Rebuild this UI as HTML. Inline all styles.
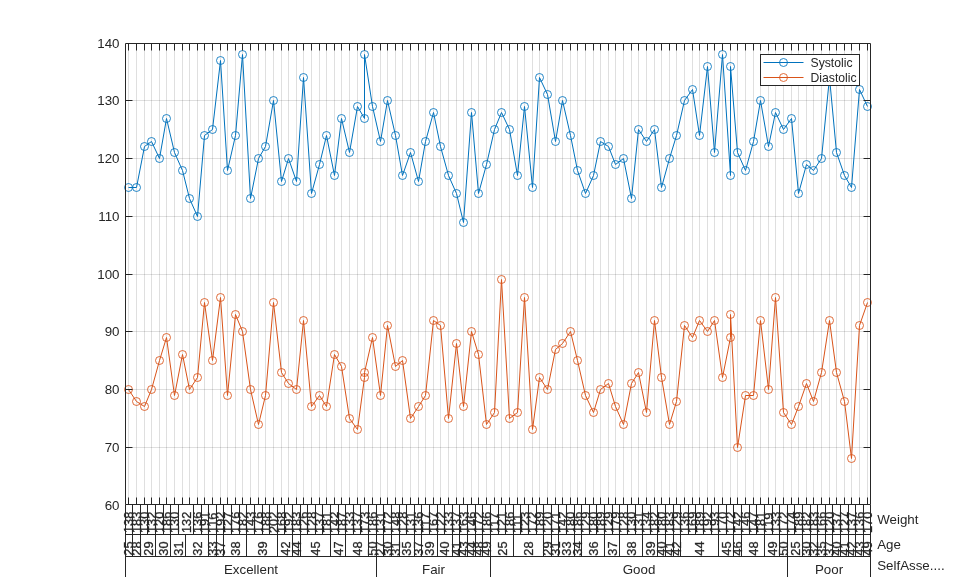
<!DOCTYPE html><html><head><meta charset="utf-8"><title>Blood pressure by patient</title><style>html,body{margin:0;padding:0;background:#fff;}svg{display:block;} text{font-family:"Liberation Sans",Arial,Helvetica,sans-serif;}</style></head><body>
<div style="will-change:transform;width:959px;height:577px;overflow:hidden"><svg width="959" height="577" viewBox="0 0 959 577">
<rect width="959" height="577" fill="#fff"/>
<path d="M128.5 43.5V504.5M136.5 43.5V504.5M144.5 43.5V504.5M151.5 43.5V504.5M159.5 43.5V504.5M166.5 43.5V504.5M174.5 43.5V504.5M182.5 43.5V504.5M189.5 43.5V504.5M197.5 43.5V504.5M204.5 43.5V504.5M212.5 43.5V504.5M220.5 43.5V504.5M227.5 43.5V504.5M235.5 43.5V504.5M242.5 43.5V504.5M250.5 43.5V504.5M258.5 43.5V504.5M265.5 43.5V504.5M273.5 43.5V504.5M281.5 43.5V504.5M288.5 43.5V504.5M296.5 43.5V504.5M303.5 43.5V504.5M311.5 43.5V504.5M319.5 43.5V504.5M326.5 43.5V504.5M334.5 43.5V504.5M341.5 43.5V504.5M349.5 43.5V504.5M357.5 43.5V504.5M364.5 43.5V504.5M372.5 43.5V504.5M380.5 43.5V504.5M387.5 43.5V504.5M395.5 43.5V504.5M402.5 43.5V504.5M410.5 43.5V504.5M418.5 43.5V504.5M425.5 43.5V504.5M433.5 43.5V504.5M440.5 43.5V504.5M448.5 43.5V504.5M456.5 43.5V504.5M463.5 43.5V504.5M471.5 43.5V504.5M478.5 43.5V504.5M486.5 43.5V504.5M494.5 43.5V504.5M501.5 43.5V504.5M509.5 43.5V504.5M517.5 43.5V504.5M524.5 43.5V504.5M532.5 43.5V504.5M539.5 43.5V504.5M547.5 43.5V504.5M555.5 43.5V504.5M562.5 43.5V504.5M570.5 43.5V504.5M577.5 43.5V504.5M585.5 43.5V504.5M593.5 43.5V504.5M600.5 43.5V504.5M608.5 43.5V504.5M615.5 43.5V504.5M623.5 43.5V504.5M631.5 43.5V504.5M638.5 43.5V504.5M646.5 43.5V504.5M654.5 43.5V504.5M661.5 43.5V504.5M669.5 43.5V504.5M676.5 43.5V504.5M684.5 43.5V504.5M692.5 43.5V504.5M699.5 43.5V504.5M707.5 43.5V504.5M714.5 43.5V504.5M722.5 43.5V504.5M730.5 43.5V504.5M737.5 43.5V504.5M745.5 43.5V504.5M753.5 43.5V504.5M760.5 43.5V504.5M768.5 43.5V504.5M775.5 43.5V504.5M783.5 43.5V504.5M791.5 43.5V504.5M798.5 43.5V504.5M806.5 43.5V504.5M813.5 43.5V504.5M821.5 43.5V504.5M829.5 43.5V504.5M836.5 43.5V504.5M844.5 43.5V504.5M851.5 43.5V504.5M859.5 43.5V504.5M867.5 43.5V504.5" stroke="#262626" stroke-opacity="0.15" stroke-width="1" fill="none"/>
<path d="M125.5 447.5H870.5M125.5 389.5H870.5M125.5 331.5H870.5M125.5 274.5H870.5M125.5 216.5H870.5M125.5 158.5H870.5M125.5 100.5H870.5" stroke="#262626" stroke-opacity="0.15" stroke-width="1" fill="none"/>
<polyline points="128.5,187.5 136.5,187.5 144.5,146.5 151.5,141.5 159.5,158.5 166.5,118.5 174.5,152.5 182.5,170.5 189.5,198.5 197.5,216.5 204.5,135.5 212.5,129.5 220.5,60.5 227.5,170.5 235.5,135.5 242.5,54.5 250.5,198.5 258.5,158.5 265.5,146.5 273.5,100.5 281.5,181.5 288.5,158.5 296.5,181.5 303.5,77.5 311.5,193.5 319.5,164.5 326.5,135.5 334.5,175.5 341.5,118.5 349.5,152.5 357.5,106.5 364.5,118.5 364.5,54.5 372.5,106.5 380.5,141.5 387.5,100.5 395.5,135.5 402.5,175.5 410.5,152.5 418.5,181.5 425.5,141.5 433.5,112.5 440.5,146.5 448.5,175.5 456.5,193.5 463.5,222.5 471.5,112.5 478.5,193.5 486.5,164.5 494.5,129.5 501.5,112.5 509.5,129.5 517.5,175.5 524.5,106.5 532.5,187.5 539.5,77.5 547.5,94.5 555.5,141.5 562.5,100.5 570.5,135.5 577.5,170.5 585.5,193.5 593.5,175.5 600.5,141.5 608.5,146.5 615.5,164.5 623.5,158.5 631.5,198.5 638.5,129.5 646.5,141.5 654.5,129.5 661.5,187.5 669.5,158.5 676.5,135.5 684.5,100.5 692.5,89.5 699.5,135.5 707.5,66.5 714.5,152.5 722.5,54.5 730.5,175.5 730.5,66.5 737.5,152.5 745.5,170.5 753.5,141.5 760.5,100.5 768.5,146.5 775.5,112.5 783.5,129.5 791.5,118.5 798.5,193.5 806.5,164.5 813.5,170.5 821.5,158.5 829.5,77.5 836.5,152.5 844.5,175.5 851.5,187.5 859.5,89.5 867.5,106.5" fill="none" stroke="#0072bd" stroke-width="1"/>
<g fill="none" stroke="#0072bd" stroke-width="0.85"><circle cx="128.5" cy="187.5" r="4"/><circle cx="136.5" cy="187.5" r="4"/><circle cx="144.5" cy="146.5" r="4"/><circle cx="151.5" cy="141.5" r="4"/><circle cx="159.5" cy="158.5" r="4"/><circle cx="166.5" cy="118.5" r="4"/><circle cx="174.5" cy="152.5" r="4"/><circle cx="182.5" cy="170.5" r="4"/><circle cx="189.5" cy="198.5" r="4"/><circle cx="197.5" cy="216.5" r="4"/><circle cx="204.5" cy="135.5" r="4"/><circle cx="212.5" cy="129.5" r="4"/><circle cx="220.5" cy="60.5" r="4"/><circle cx="227.5" cy="170.5" r="4"/><circle cx="235.5" cy="135.5" r="4"/><circle cx="242.5" cy="54.5" r="4"/><circle cx="250.5" cy="198.5" r="4"/><circle cx="258.5" cy="158.5" r="4"/><circle cx="265.5" cy="146.5" r="4"/><circle cx="273.5" cy="100.5" r="4"/><circle cx="281.5" cy="181.5" r="4"/><circle cx="288.5" cy="158.5" r="4"/><circle cx="296.5" cy="181.5" r="4"/><circle cx="303.5" cy="77.5" r="4"/><circle cx="311.5" cy="193.5" r="4"/><circle cx="319.5" cy="164.5" r="4"/><circle cx="326.5" cy="135.5" r="4"/><circle cx="334.5" cy="175.5" r="4"/><circle cx="341.5" cy="118.5" r="4"/><circle cx="349.5" cy="152.5" r="4"/><circle cx="357.5" cy="106.5" r="4"/><circle cx="364.5" cy="118.5" r="4"/><circle cx="364.5" cy="54.5" r="4"/><circle cx="372.5" cy="106.5" r="4"/><circle cx="380.5" cy="141.5" r="4"/><circle cx="387.5" cy="100.5" r="4"/><circle cx="395.5" cy="135.5" r="4"/><circle cx="402.5" cy="175.5" r="4"/><circle cx="410.5" cy="152.5" r="4"/><circle cx="418.5" cy="181.5" r="4"/><circle cx="425.5" cy="141.5" r="4"/><circle cx="433.5" cy="112.5" r="4"/><circle cx="440.5" cy="146.5" r="4"/><circle cx="448.5" cy="175.5" r="4"/><circle cx="456.5" cy="193.5" r="4"/><circle cx="463.5" cy="222.5" r="4"/><circle cx="471.5" cy="112.5" r="4"/><circle cx="478.5" cy="193.5" r="4"/><circle cx="486.5" cy="164.5" r="4"/><circle cx="494.5" cy="129.5" r="4"/><circle cx="501.5" cy="112.5" r="4"/><circle cx="509.5" cy="129.5" r="4"/><circle cx="517.5" cy="175.5" r="4"/><circle cx="524.5" cy="106.5" r="4"/><circle cx="532.5" cy="187.5" r="4"/><circle cx="539.5" cy="77.5" r="4"/><circle cx="547.5" cy="94.5" r="4"/><circle cx="555.5" cy="141.5" r="4"/><circle cx="562.5" cy="100.5" r="4"/><circle cx="570.5" cy="135.5" r="4"/><circle cx="577.5" cy="170.5" r="4"/><circle cx="585.5" cy="193.5" r="4"/><circle cx="593.5" cy="175.5" r="4"/><circle cx="600.5" cy="141.5" r="4"/><circle cx="608.5" cy="146.5" r="4"/><circle cx="615.5" cy="164.5" r="4"/><circle cx="623.5" cy="158.5" r="4"/><circle cx="631.5" cy="198.5" r="4"/><circle cx="638.5" cy="129.5" r="4"/><circle cx="646.5" cy="141.5" r="4"/><circle cx="654.5" cy="129.5" r="4"/><circle cx="661.5" cy="187.5" r="4"/><circle cx="669.5" cy="158.5" r="4"/><circle cx="676.5" cy="135.5" r="4"/><circle cx="684.5" cy="100.5" r="4"/><circle cx="692.5" cy="89.5" r="4"/><circle cx="699.5" cy="135.5" r="4"/><circle cx="707.5" cy="66.5" r="4"/><circle cx="714.5" cy="152.5" r="4"/><circle cx="722.5" cy="54.5" r="4"/><circle cx="730.5" cy="175.5" r="4"/><circle cx="730.5" cy="66.5" r="4"/><circle cx="737.5" cy="152.5" r="4"/><circle cx="745.5" cy="170.5" r="4"/><circle cx="753.5" cy="141.5" r="4"/><circle cx="760.5" cy="100.5" r="4"/><circle cx="768.5" cy="146.5" r="4"/><circle cx="775.5" cy="112.5" r="4"/><circle cx="783.5" cy="129.5" r="4"/><circle cx="791.5" cy="118.5" r="4"/><circle cx="798.5" cy="193.5" r="4"/><circle cx="806.5" cy="164.5" r="4"/><circle cx="813.5" cy="170.5" r="4"/><circle cx="821.5" cy="158.5" r="4"/><circle cx="829.5" cy="77.5" r="4"/><circle cx="836.5" cy="152.5" r="4"/><circle cx="844.5" cy="175.5" r="4"/><circle cx="851.5" cy="187.5" r="4"/><circle cx="859.5" cy="89.5" r="4"/><circle cx="867.5" cy="106.5" r="4"/></g>
<polyline points="128.5,389.5 136.5,401.5 144.5,406.5 151.5,389.5 159.5,360.5 166.5,337.5 174.5,395.5 182.5,354.5 189.5,389.5 197.5,377.5 204.5,302.5 212.5,360.5 220.5,297.5 227.5,395.5 235.5,314.5 242.5,331.5 250.5,389.5 258.5,424.5 265.5,395.5 273.5,302.5 281.5,372.5 288.5,383.5 296.5,389.5 303.5,320.5 311.5,406.5 319.5,395.5 326.5,406.5 334.5,354.5 341.5,366.5 349.5,418.5 357.5,429.5 364.5,377.5 364.5,372.5 372.5,337.5 380.5,395.5 387.5,325.5 395.5,366.5 402.5,360.5 410.5,418.5 418.5,406.5 425.5,395.5 433.5,320.5 440.5,325.5 448.5,418.5 456.5,343.5 463.5,406.5 471.5,331.5 478.5,354.5 486.5,424.5 494.5,412.5 501.5,279.5 509.5,418.5 517.5,412.5 524.5,297.5 532.5,429.5 539.5,377.5 547.5,389.5 555.5,349.5 562.5,343.5 570.5,331.5 577.5,360.5 585.5,395.5 593.5,412.5 600.5,389.5 608.5,383.5 615.5,406.5 623.5,424.5 631.5,383.5 638.5,372.5 646.5,412.5 654.5,320.5 661.5,377.5 669.5,424.5 676.5,401.5 684.5,325.5 692.5,337.5 699.5,320.5 707.5,331.5 714.5,320.5 722.5,377.5 730.5,337.5 730.5,314.5 737.5,447.5 745.5,395.5 753.5,395.5 760.5,320.5 768.5,389.5 775.5,297.5 783.5,412.5 791.5,424.5 798.5,406.5 806.5,383.5 813.5,401.5 821.5,372.5 829.5,320.5 836.5,372.5 844.5,401.5 851.5,458.5 859.5,325.5 867.5,302.5" fill="none" stroke="#d95319" stroke-width="1"/>
<g fill="none" stroke="#d95319" stroke-width="0.85"><circle cx="128.5" cy="389.5" r="4"/><circle cx="136.5" cy="401.5" r="4"/><circle cx="144.5" cy="406.5" r="4"/><circle cx="151.5" cy="389.5" r="4"/><circle cx="159.5" cy="360.5" r="4"/><circle cx="166.5" cy="337.5" r="4"/><circle cx="174.5" cy="395.5" r="4"/><circle cx="182.5" cy="354.5" r="4"/><circle cx="189.5" cy="389.5" r="4"/><circle cx="197.5" cy="377.5" r="4"/><circle cx="204.5" cy="302.5" r="4"/><circle cx="212.5" cy="360.5" r="4"/><circle cx="220.5" cy="297.5" r="4"/><circle cx="227.5" cy="395.5" r="4"/><circle cx="235.5" cy="314.5" r="4"/><circle cx="242.5" cy="331.5" r="4"/><circle cx="250.5" cy="389.5" r="4"/><circle cx="258.5" cy="424.5" r="4"/><circle cx="265.5" cy="395.5" r="4"/><circle cx="273.5" cy="302.5" r="4"/><circle cx="281.5" cy="372.5" r="4"/><circle cx="288.5" cy="383.5" r="4"/><circle cx="296.5" cy="389.5" r="4"/><circle cx="303.5" cy="320.5" r="4"/><circle cx="311.5" cy="406.5" r="4"/><circle cx="319.5" cy="395.5" r="4"/><circle cx="326.5" cy="406.5" r="4"/><circle cx="334.5" cy="354.5" r="4"/><circle cx="341.5" cy="366.5" r="4"/><circle cx="349.5" cy="418.5" r="4"/><circle cx="357.5" cy="429.5" r="4"/><circle cx="364.5" cy="377.5" r="4"/><circle cx="364.5" cy="372.5" r="4"/><circle cx="372.5" cy="337.5" r="4"/><circle cx="380.5" cy="395.5" r="4"/><circle cx="387.5" cy="325.5" r="4"/><circle cx="395.5" cy="366.5" r="4"/><circle cx="402.5" cy="360.5" r="4"/><circle cx="410.5" cy="418.5" r="4"/><circle cx="418.5" cy="406.5" r="4"/><circle cx="425.5" cy="395.5" r="4"/><circle cx="433.5" cy="320.5" r="4"/><circle cx="440.5" cy="325.5" r="4"/><circle cx="448.5" cy="418.5" r="4"/><circle cx="456.5" cy="343.5" r="4"/><circle cx="463.5" cy="406.5" r="4"/><circle cx="471.5" cy="331.5" r="4"/><circle cx="478.5" cy="354.5" r="4"/><circle cx="486.5" cy="424.5" r="4"/><circle cx="494.5" cy="412.5" r="4"/><circle cx="501.5" cy="279.5" r="4"/><circle cx="509.5" cy="418.5" r="4"/><circle cx="517.5" cy="412.5" r="4"/><circle cx="524.5" cy="297.5" r="4"/><circle cx="532.5" cy="429.5" r="4"/><circle cx="539.5" cy="377.5" r="4"/><circle cx="547.5" cy="389.5" r="4"/><circle cx="555.5" cy="349.5" r="4"/><circle cx="562.5" cy="343.5" r="4"/><circle cx="570.5" cy="331.5" r="4"/><circle cx="577.5" cy="360.5" r="4"/><circle cx="585.5" cy="395.5" r="4"/><circle cx="593.5" cy="412.5" r="4"/><circle cx="600.5" cy="389.5" r="4"/><circle cx="608.5" cy="383.5" r="4"/><circle cx="615.5" cy="406.5" r="4"/><circle cx="623.5" cy="424.5" r="4"/><circle cx="631.5" cy="383.5" r="4"/><circle cx="638.5" cy="372.5" r="4"/><circle cx="646.5" cy="412.5" r="4"/><circle cx="654.5" cy="320.5" r="4"/><circle cx="661.5" cy="377.5" r="4"/><circle cx="669.5" cy="424.5" r="4"/><circle cx="676.5" cy="401.5" r="4"/><circle cx="684.5" cy="325.5" r="4"/><circle cx="692.5" cy="337.5" r="4"/><circle cx="699.5" cy="320.5" r="4"/><circle cx="707.5" cy="331.5" r="4"/><circle cx="714.5" cy="320.5" r="4"/><circle cx="722.5" cy="377.5" r="4"/><circle cx="730.5" cy="337.5" r="4"/><circle cx="730.5" cy="314.5" r="4"/><circle cx="737.5" cy="447.5" r="4"/><circle cx="745.5" cy="395.5" r="4"/><circle cx="753.5" cy="395.5" r="4"/><circle cx="760.5" cy="320.5" r="4"/><circle cx="768.5" cy="389.5" r="4"/><circle cx="775.5" cy="297.5" r="4"/><circle cx="783.5" cy="412.5" r="4"/><circle cx="791.5" cy="424.5" r="4"/><circle cx="798.5" cy="406.5" r="4"/><circle cx="806.5" cy="383.5" r="4"/><circle cx="813.5" cy="401.5" r="4"/><circle cx="821.5" cy="372.5" r="4"/><circle cx="829.5" cy="320.5" r="4"/><circle cx="836.5" cy="372.5" r="4"/><circle cx="844.5" cy="401.5" r="4"/><circle cx="851.5" cy="458.5" r="4"/><circle cx="859.5" cy="325.5" r="4"/><circle cx="867.5" cy="302.5" r="4"/></g>
<path d="M128.5 43V50.5M128.5 505V497.5M136.5 43V50.5M136.5 505V497.5M144.5 43V50.5M144.5 505V497.5M151.5 43V50.5M151.5 505V497.5M159.5 43V50.5M159.5 505V497.5M166.5 43V50.5M166.5 505V497.5M174.5 43V50.5M174.5 505V497.5M182.5 43V50.5M182.5 505V497.5M189.5 43V50.5M189.5 505V497.5M197.5 43V50.5M197.5 505V497.5M204.5 43V50.5M204.5 505V497.5M212.5 43V50.5M212.5 505V497.5M220.5 43V50.5M220.5 505V497.5M227.5 43V50.5M227.5 505V497.5M235.5 43V50.5M235.5 505V497.5M242.5 43V50.5M242.5 505V497.5M250.5 43V50.5M250.5 505V497.5M258.5 43V50.5M258.5 505V497.5M265.5 43V50.5M265.5 505V497.5M273.5 43V50.5M273.5 505V497.5M281.5 43V50.5M281.5 505V497.5M288.5 43V50.5M288.5 505V497.5M296.5 43V50.5M296.5 505V497.5M303.5 43V50.5M303.5 505V497.5M311.5 43V50.5M311.5 505V497.5M319.5 43V50.5M319.5 505V497.5M326.5 43V50.5M326.5 505V497.5M334.5 43V50.5M334.5 505V497.5M341.5 43V50.5M341.5 505V497.5M349.5 43V50.5M349.5 505V497.5M357.5 43V50.5M357.5 505V497.5M364.5 43V50.5M364.5 505V497.5M372.5 43V50.5M372.5 505V497.5M380.5 43V50.5M380.5 505V497.5M387.5 43V50.5M387.5 505V497.5M395.5 43V50.5M395.5 505V497.5M402.5 43V50.5M402.5 505V497.5M410.5 43V50.5M410.5 505V497.5M418.5 43V50.5M418.5 505V497.5M425.5 43V50.5M425.5 505V497.5M433.5 43V50.5M433.5 505V497.5M440.5 43V50.5M440.5 505V497.5M448.5 43V50.5M448.5 505V497.5M456.5 43V50.5M456.5 505V497.5M463.5 43V50.5M463.5 505V497.5M471.5 43V50.5M471.5 505V497.5M478.5 43V50.5M478.5 505V497.5M486.5 43V50.5M486.5 505V497.5M494.5 43V50.5M494.5 505V497.5M501.5 43V50.5M501.5 505V497.5M509.5 43V50.5M509.5 505V497.5M517.5 43V50.5M517.5 505V497.5M524.5 43V50.5M524.5 505V497.5M532.5 43V50.5M532.5 505V497.5M539.5 43V50.5M539.5 505V497.5M547.5 43V50.5M547.5 505V497.5M555.5 43V50.5M555.5 505V497.5M562.5 43V50.5M562.5 505V497.5M570.5 43V50.5M570.5 505V497.5M577.5 43V50.5M577.5 505V497.5M585.5 43V50.5M585.5 505V497.5M593.5 43V50.5M593.5 505V497.5M600.5 43V50.5M600.5 505V497.5M608.5 43V50.5M608.5 505V497.5M615.5 43V50.5M615.5 505V497.5M623.5 43V50.5M623.5 505V497.5M631.5 43V50.5M631.5 505V497.5M638.5 43V50.5M638.5 505V497.5M646.5 43V50.5M646.5 505V497.5M654.5 43V50.5M654.5 505V497.5M661.5 43V50.5M661.5 505V497.5M669.5 43V50.5M669.5 505V497.5M676.5 43V50.5M676.5 505V497.5M684.5 43V50.5M684.5 505V497.5M692.5 43V50.5M692.5 505V497.5M699.5 43V50.5M699.5 505V497.5M707.5 43V50.5M707.5 505V497.5M714.5 43V50.5M714.5 505V497.5M722.5 43V50.5M722.5 505V497.5M730.5 43V50.5M730.5 505V497.5M737.5 43V50.5M737.5 505V497.5M745.5 43V50.5M745.5 505V497.5M753.5 43V50.5M753.5 505V497.5M760.5 43V50.5M760.5 505V497.5M768.5 43V50.5M768.5 505V497.5M775.5 43V50.5M775.5 505V497.5M783.5 43V50.5M783.5 505V497.5M791.5 43V50.5M791.5 505V497.5M798.5 43V50.5M798.5 505V497.5M806.5 43V50.5M806.5 505V497.5M813.5 43V50.5M813.5 505V497.5M821.5 43V50.5M821.5 505V497.5M829.5 43V50.5M829.5 505V497.5M836.5 43V50.5M836.5 505V497.5M844.5 43V50.5M844.5 505V497.5M851.5 43V50.5M851.5 505V497.5M859.5 43V50.5M859.5 505V497.5M867.5 43V50.5M867.5 505V497.5M125 447.5H132.5M871 447.5H863.5M125 389.5H132.5M871 389.5H863.5M125 331.5H132.5M871 331.5H863.5M125 274.5H132.5M871 274.5H863.5M125 216.5H132.5M871 216.5H863.5M125 158.5H132.5M871 158.5H863.5M125 100.5H132.5M871 100.5H863.5" stroke="#262626" stroke-width="1" fill="none"/>
<path d="M125.5 43.5H870.5V504.5H125.5Z" fill="none" stroke="#262626" stroke-width="1"/>
<g font-size="13.33" fill="#262626"><text x="119.5" y="510.30" text-anchor="end">60</text><text x="119.5" y="452.30" text-anchor="end">70</text><text x="119.5" y="394.30" text-anchor="end">80</text><text x="119.5" y="336.30" text-anchor="end">90</text><text x="119.5" y="279.30" text-anchor="end">100</text><text x="119.5" y="221.30" text-anchor="end">110</text><text x="119.5" y="163.30" text-anchor="end">120</text><text x="119.5" y="105.30" text-anchor="end">130</text><text x="119.5" y="48.30" text-anchor="end">140</text></g>
<rect x="760.5" y="54.5" width="99.0" height="31.0" fill="#fff" stroke="#262626" stroke-width="1"/>
<path d="M763.5 62.5H803.5" stroke="#0072bd" stroke-width="1"/><circle cx="783.5" cy="62.5" r="4" fill="none" stroke="#0072bd" stroke-width="0.85"/>
<text x="810.5" y="66.8" font-size="12.2" fill="#262626">Systolic</text>
<path d="M763.5 77.5H803.5" stroke="#d95319" stroke-width="1"/><circle cx="783.5" cy="77.5" r="4" fill="none" stroke="#d95319" stroke-width="0.85"/>
<text x="810.5" y="81.8" font-size="12.2" fill="#262626">Diastolic</text>
<path d="M125.5 534.5H870.5M125.5 556.5H870.5M125.5 504.5V577M870.5 504.5V577M132.5 504.5V534.5M140.5 504.5V534.5M147.5 504.5V534.5M155.5 504.5V534.5M163.5 504.5V534.5M170.5 504.5V534.5M178.5 504.5V534.5M193.5 504.5V534.5M201.5 504.5V534.5M208.5 504.5V534.5M216.5 504.5V534.5M223.5 504.5V534.5M231.5 504.5V534.5M239.5 504.5V534.5M246.5 504.5V534.5M254.5 504.5V534.5M262.5 504.5V534.5M269.5 504.5V534.5M277.5 504.5V534.5M284.5 504.5V534.5M292.5 504.5V534.5M300.5 504.5V534.5M307.5 504.5V534.5M315.5 504.5V534.5M322.5 504.5V534.5M330.5 504.5V534.5M338.5 504.5V534.5M345.5 504.5V534.5M353.5 504.5V534.5M360.5 504.5V534.5M368.5 504.5V534.5M376.5 504.5V534.5M383.5 504.5V534.5M391.5 504.5V534.5M399.5 504.5V534.5M406.5 504.5V534.5M414.5 504.5V534.5M421.5 504.5V534.5M429.5 504.5V534.5M437.5 504.5V534.5M444.5 504.5V534.5M452.5 504.5V534.5M459.5 504.5V534.5M467.5 504.5V534.5M475.5 504.5V534.5M482.5 504.5V534.5M490.5 504.5V534.5M498.5 504.5V534.5M505.5 504.5V534.5M513.5 504.5V534.5M520.5 504.5V534.5M528.5 504.5V534.5M536.5 504.5V534.5M543.5 504.5V534.5M551.5 504.5V534.5M558.5 504.5V534.5M566.5 504.5V534.5M574.5 504.5V534.5M581.5 504.5V534.5M589.5 504.5V534.5M596.5 504.5V534.5M604.5 504.5V534.5M612.5 504.5V534.5M619.5 504.5V534.5M627.5 504.5V534.5M635.5 504.5V534.5M642.5 504.5V534.5M650.5 504.5V534.5M657.5 504.5V534.5M665.5 504.5V534.5M673.5 504.5V534.5M680.5 504.5V534.5M688.5 504.5V534.5M695.5 504.5V534.5M703.5 504.5V534.5M711.5 504.5V534.5M718.5 504.5V534.5M726.5 504.5V534.5M733.5 504.5V534.5M741.5 504.5V534.5M749.5 504.5V534.5M756.5 504.5V534.5M764.5 504.5V534.5M772.5 504.5V534.5M779.5 504.5V534.5M787.5 504.5V534.5M794.5 504.5V534.5M802.5 504.5V534.5M810.5 504.5V534.5M817.5 504.5V534.5M825.5 504.5V534.5M832.5 504.5V534.5M840.5 504.5V534.5M848.5 504.5V534.5M855.5 504.5V534.5M863.5 504.5V534.5M132.5 534.5V556.5M140.5 534.5V556.5M155.5 534.5V556.5M170.5 534.5V556.5M185.5 534.5V556.5M208.5 534.5V556.5M216.5 534.5V556.5M223.5 534.5V556.5M246.5 534.5V556.5M277.5 534.5V556.5M292.5 534.5V556.5M300.5 534.5V556.5M330.5 534.5V556.5M345.5 534.5V556.5M368.5 534.5V556.5M376.5 534.5V556.5M383.5 534.5V556.5M391.5 534.5V556.5M399.5 534.5V556.5M414.5 534.5V556.5M421.5 534.5V556.5M437.5 534.5V556.5M452.5 534.5V556.5M459.5 534.5V556.5M467.5 534.5V556.5M475.5 534.5V556.5M482.5 534.5V556.5M490.5 534.5V556.5M513.5 534.5V556.5M543.5 534.5V556.5M551.5 534.5V556.5M558.5 534.5V556.5M574.5 534.5V556.5M581.5 534.5V556.5M604.5 534.5V556.5M619.5 534.5V556.5M642.5 534.5V556.5M657.5 534.5V556.5M665.5 534.5V556.5M673.5 534.5V556.5M680.5 534.5V556.5M718.5 534.5V556.5M733.5 534.5V556.5M741.5 534.5V556.5M764.5 534.5V556.5M779.5 534.5V556.5M787.5 534.5V556.5M802.5 534.5V556.5M810.5 534.5V556.5M817.5 534.5V556.5M825.5 534.5V556.5M832.5 534.5V556.5M840.5 534.5V556.5M848.5 534.5V556.5M855.5 534.5V556.5M863.5 534.5V556.5M376.5 556.5V577M490.5 556.5V577M787.5 556.5V577" stroke="#262626" stroke-width="1" fill="none"/>
<g font-size="12.8" fill="#262626" stroke="#262626" stroke-width="0.3"><text transform="translate(133.11,533.00) rotate(-90)">138</text><text transform="translate(141.11,533.00) rotate(-90)">183</text><text transform="translate(149.11,533.00) rotate(-90)">130</text><text transform="translate(156.11,533.00) rotate(-90)">132</text><text transform="translate(164.11,533.00) rotate(-90)">120</text><text transform="translate(171.11,533.00) rotate(-90)">186</text><text transform="translate(179.11,533.00) rotate(-90)">130</text><text transform="translate(190.61,533.00) rotate(-90)">132</text><text transform="translate(202.11,533.00) rotate(-90)">136</text><text transform="translate(209.11,533.00) rotate(-90)">191</text><text transform="translate(217.11,533.00) rotate(-90)">116</text><text transform="translate(225.11,533.00) rotate(-90)">192</text><text transform="translate(232.11,533.00) rotate(-90)">127</text><text transform="translate(240.11,533.00) rotate(-90)">176</text><text transform="translate(247.11,533.00) rotate(-90)">182</text><text transform="translate(255.11,533.00) rotate(-90)">143</text><text transform="translate(263.11,533.00) rotate(-90)">176</text><text transform="translate(270.11,533.00) rotate(-90)">188</text><text transform="translate(278.11,533.00) rotate(-90)">202</text><text transform="translate(286.11,533.00) rotate(-90)">168</text><text transform="translate(293.11,533.00) rotate(-90)">192</text><text transform="translate(301.11,533.00) rotate(-90)">183</text><text transform="translate(308.11,533.00) rotate(-90)">126</text><text transform="translate(316.11,533.00) rotate(-90)">128</text><text transform="translate(324.11,533.00) rotate(-90)">137</text><text transform="translate(331.11,533.00) rotate(-90)">181</text><text transform="translate(339.11,533.00) rotate(-90)">142</text><text transform="translate(346.11,533.00) rotate(-90)">187</text><text transform="translate(354.11,533.00) rotate(-90)">133</text><text transform="translate(362.11,533.00) rotate(-90)">137</text><text transform="translate(369.11,533.00) rotate(-90)">173</text><text transform="translate(377.11,533.00) rotate(-90)">186</text><text transform="translate(385.11,533.00) rotate(-90)">131</text><text transform="translate(392.11,533.00) rotate(-90)">172</text><text transform="translate(400.11,533.00) rotate(-90)">148</text><text transform="translate(407.11,533.00) rotate(-90)">128</text><text transform="translate(415.11,533.00) rotate(-90)">131</text><text transform="translate(423.11,533.00) rotate(-90)">136</text><text transform="translate(430.11,533.00) rotate(-90)">117</text><text transform="translate(438.11,533.00) rotate(-90)">167</text><text transform="translate(445.11,533.00) rotate(-90)">122</text><text transform="translate(453.11,533.00) rotate(-90)">133</text><text transform="translate(461.11,533.00) rotate(-90)">137</text><text transform="translate(468.11,533.00) rotate(-90)">163</text><text transform="translate(476.11,533.00) rotate(-90)">146</text><text transform="translate(483.11,533.00) rotate(-90)">172</text><text transform="translate(491.11,533.00) rotate(-90)">186</text><text transform="translate(499.11,533.00) rotate(-90)">117</text><text transform="translate(506.11,533.00) rotate(-90)">121</text><text transform="translate(514.11,533.00) rotate(-90)">186</text><text transform="translate(522.11,533.00) rotate(-90)">111</text><text transform="translate(529.11,533.00) rotate(-90)">123</text><text transform="translate(537.11,533.00) rotate(-90)">172</text><text transform="translate(544.11,533.00) rotate(-90)">189</text><text transform="translate(552.11,533.00) rotate(-90)">120</text><text transform="translate(560.11,533.00) rotate(-90)">171</text><text transform="translate(567.11,533.00) rotate(-90)">142</text><text transform="translate(575.11,533.00) rotate(-90)">180</text><text transform="translate(582.11,533.00) rotate(-90)">186</text><text transform="translate(590.11,533.00) rotate(-90)">129</text><text transform="translate(598.11,533.00) rotate(-90)">180</text><text transform="translate(605.11,533.00) rotate(-90)">189</text><text transform="translate(613.11,533.00) rotate(-90)">129</text><text transform="translate(620.11,533.00) rotate(-90)">179</text><text transform="translate(628.11,533.00) rotate(-90)">128</text><text transform="translate(636.11,533.00) rotate(-90)">130</text><text transform="translate(643.11,533.00) rotate(-90)">131</text><text transform="translate(651.11,533.00) rotate(-90)">134</text><text transform="translate(659.11,533.00) rotate(-90)">182</text><text transform="translate(666.11,533.00) rotate(-90)">180</text><text transform="translate(674.11,533.00) rotate(-90)">183</text><text transform="translate(681.11,533.00) rotate(-90)">129</text><text transform="translate(689.11,533.00) rotate(-90)">136</text><text transform="translate(697.11,533.00) rotate(-90)">169</text><text transform="translate(704.11,533.00) rotate(-90)">189</text><text transform="translate(712.11,533.00) rotate(-90)">192</text><text transform="translate(719.11,533.00) rotate(-90)">193</text><text transform="translate(727.11,533.00) rotate(-90)">170</text><text transform="translate(735.11,533.00) rotate(-90)">172</text><text transform="translate(742.11,533.00) rotate(-90)">142</text><text transform="translate(750.11,533.00) rotate(-90)">146</text><text transform="translate(758.11,533.00) rotate(-90)">147</text><text transform="translate(765.11,533.00) rotate(-90)">181</text><text transform="translate(773.11,533.00) rotate(-90)">119</text><text transform="translate(780.11,533.00) rotate(-90)">133</text><text transform="translate(788.11,533.00) rotate(-90)">172</text><text transform="translate(796.11,533.00) rotate(-90)">174</text><text transform="translate(803.11,533.00) rotate(-90)">189</text><text transform="translate(811.11,533.00) rotate(-90)">182</text><text transform="translate(818.11,533.00) rotate(-90)">183</text><text transform="translate(826.11,533.00) rotate(-90)">166</text><text transform="translate(834.11,533.00) rotate(-90)">120</text><text transform="translate(841.11,533.00) rotate(-90)">137</text><text transform="translate(849.11,533.00) rotate(-90)">127</text><text transform="translate(856.11,533.00) rotate(-90)">137</text><text transform="translate(864.11,533.00) rotate(-90)">136</text><text transform="translate(872.11,533.00) rotate(-90)">170</text></g>
<g font-size="12.8" fill="#262626" stroke="#262626" stroke-width="0.3"><text transform="translate(133.11,555.70) rotate(-90)">25</text><text transform="translate(141.11,555.70) rotate(-90)">28</text><text transform="translate(152.61,555.70) rotate(-90)">29</text><text transform="translate(167.61,555.70) rotate(-90)">30</text><text transform="translate(183.11,555.70) rotate(-90)">31</text><text transform="translate(201.61,555.70) rotate(-90)">32</text><text transform="translate(217.11,555.70) rotate(-90)">33</text><text transform="translate(225.11,555.70) rotate(-90)">37</text><text transform="translate(239.61,555.70) rotate(-90)">38</text><text transform="translate(266.61,555.70) rotate(-90)">39</text><text transform="translate(289.61,555.70) rotate(-90)">42</text><text transform="translate(301.11,555.70) rotate(-90)">44</text><text transform="translate(319.61,555.70) rotate(-90)">45</text><text transform="translate(342.61,555.70) rotate(-90)">47</text><text transform="translate(361.61,555.70) rotate(-90)">48</text><text transform="translate(377.11,555.70) rotate(-90)">50</text><text transform="translate(385.11,555.70) rotate(-90)">27</text><text transform="translate(392.11,555.70) rotate(-90)">30</text><text transform="translate(400.11,555.70) rotate(-90)">31</text><text transform="translate(411.11,555.70) rotate(-90)">35</text><text transform="translate(423.11,555.70) rotate(-90)">37</text><text transform="translate(434.11,555.70) rotate(-90)">39</text><text transform="translate(449.11,555.70) rotate(-90)">40</text><text transform="translate(461.11,555.70) rotate(-90)">41</text><text transform="translate(468.11,555.70) rotate(-90)">43</text><text transform="translate(476.11,555.70) rotate(-90)">44</text><text transform="translate(483.11,555.70) rotate(-90)">48</text><text transform="translate(491.11,555.70) rotate(-90)">49</text><text transform="translate(506.61,555.70) rotate(-90)">25</text><text transform="translate(533.11,555.70) rotate(-90)">28</text><text transform="translate(552.11,555.70) rotate(-90)">29</text><text transform="translate(560.11,555.70) rotate(-90)">31</text><text transform="translate(571.11,555.70) rotate(-90)">33</text><text transform="translate(582.11,555.70) rotate(-90)">34</text><text transform="translate(597.61,555.70) rotate(-90)">36</text><text transform="translate(616.61,555.70) rotate(-90)">37</text><text transform="translate(635.61,555.70) rotate(-90)">38</text><text transform="translate(655.11,555.70) rotate(-90)">39</text><text transform="translate(666.11,555.70) rotate(-90)">40</text><text transform="translate(674.11,555.70) rotate(-90)">41</text><text transform="translate(681.11,555.70) rotate(-90)">42</text><text transform="translate(704.11,555.70) rotate(-90)">44</text><text transform="translate(731.11,555.70) rotate(-90)">45</text><text transform="translate(742.11,555.70) rotate(-90)">46</text><text transform="translate(757.61,555.70) rotate(-90)">48</text><text transform="translate(776.61,555.70) rotate(-90)">49</text><text transform="translate(788.11,555.70) rotate(-90)">50</text><text transform="translate(799.61,555.70) rotate(-90)">25</text><text transform="translate(811.11,555.70) rotate(-90)">30</text><text transform="translate(818.11,555.70) rotate(-90)">32</text><text transform="translate(826.11,555.70) rotate(-90)">35</text><text transform="translate(834.11,555.70) rotate(-90)">37</text><text transform="translate(841.11,555.70) rotate(-90)">40</text><text transform="translate(849.11,555.70) rotate(-90)">41</text><text transform="translate(856.11,555.70) rotate(-90)">42</text><text transform="translate(864.11,555.70) rotate(-90)">43</text><text transform="translate(872.11,555.70) rotate(-90)">49</text></g>
<g font-size="13.33" fill="#262626"><text x="251.00" y="573.5" text-anchor="middle">Excellent</text><text x="433.50" y="573.5" text-anchor="middle">Fair</text><text x="639.00" y="573.5" text-anchor="middle">Good</text><text x="829.00" y="573.5" text-anchor="middle">Poor</text></g>
<g font-size="13.33" fill="#262626"><text x="877.2" y="523.8">Weight</text><text x="877.2" y="548.5">Age</text><text x="877.2" y="570">SelfAsse....</text></g>
</svg></div></body></html>
